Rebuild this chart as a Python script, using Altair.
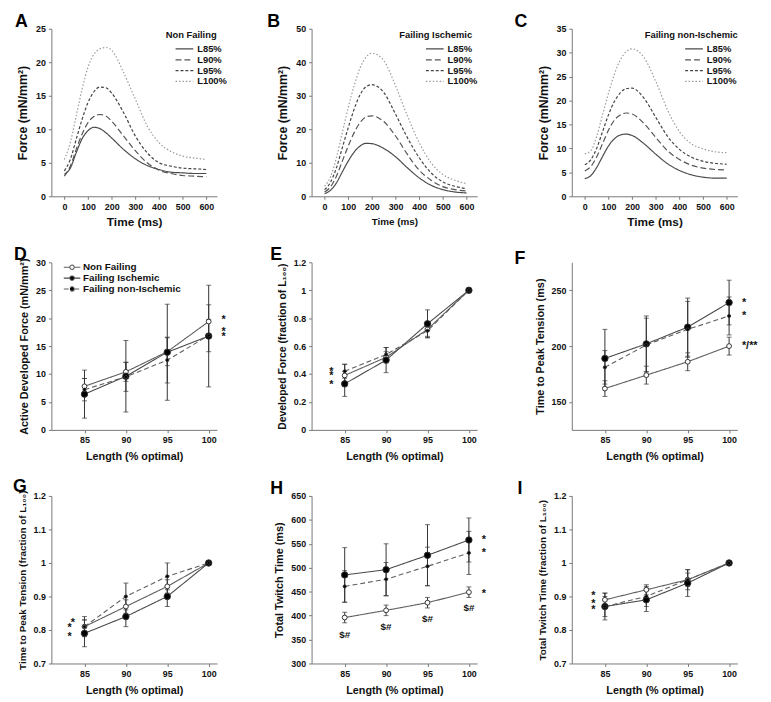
import altair as alt
import pandas as pd

FONT = "Liberation Sans"

# ---------------- Panels A-C: twitch force traces ----------------
t_ms = [0, 25, 50, 75, 100, 125, 150, 175, 200, 250, 300, 350, 400, 450, 500, 550, 600]
len_names = ["L85%", "L90%", "L95%", "L100%"]

A_L85 = [3.3, 4.2, 6.5, 8.6, 9.8, 10.3, 10.1, 9.5, 8.7, 7.0, 5.6, 4.6, 4.0, 3.6, 3.5, 3.4, 3.4]
A_L90 = [3.0, 4.5, 7.0, 9.3, 11.0, 11.9, 12.2, 12.0, 11.2, 9.0, 6.8, 5.0, 3.9, 3.4, 3.1, 3.0, 2.9]
A_L95 = [3.8, 5.5, 8.5, 11.5, 14.0, 15.6, 16.3, 16.2, 15.4, 12.5, 9.0, 6.5, 5.0, 4.5, 4.2, 4.1, 4.0]
A_L100 = [5.5, 8.0, 12.0, 16.0, 19.3, 21.2, 22.0, 22.2, 21.8, 18.5, 14.5, 10.5, 8.0, 6.7, 6.0, 5.7, 5.5]

B_L85 = [0.8, 1.8, 4.0, 7.3, 10.5, 13.2, 15.0, 15.8, 15.7, 14.3, 11.8, 8.5, 5.5, 3.3, 2.0, 1.3, 1.0]
B_L90 = [1.3, 2.8, 6.0, 10.5, 15.0, 19.0, 22.0, 23.7, 24.0, 22.3, 18.0, 12.5, 7.8, 4.8, 2.9, 2.0, 1.6]
B_L95 = [2.0, 4.2, 8.5, 14.5, 20.5, 26.0, 30.3, 32.7, 33.3, 31.0, 24.5, 17.5, 11.5, 7.0, 4.3, 3.0, 2.3]
B_L100 = [3.0, 5.8, 11.5, 19.0, 26.5, 33.0, 38.3, 41.5, 42.7, 40.5, 33.0, 24.0, 16.0, 10.0, 6.5, 4.8, 3.8]

C_L85 = [3.7, 4.3, 6.0, 8.3, 10.5, 12.0, 12.8, 13.0, 12.7, 11.0, 8.8, 6.8, 5.4, 4.5, 4.0, 3.8, 3.8]
C_L90 = [5.3, 6.2, 8.2, 11.0, 13.8, 15.9, 17.0, 17.4, 17.2, 15.2, 12.3, 9.5, 7.7, 6.5, 5.9, 5.6, 5.5]
C_L95 = [6.6, 7.6, 10.0, 13.5, 17.0, 19.8, 21.6, 22.5, 22.6, 20.5, 16.5, 12.5, 9.8, 8.2, 7.3, 6.9, 6.7]
C_L100 = [8.9, 9.5, 12.5, 17.0, 21.5, 25.5, 28.5, 30.2, 30.8, 29.0, 24.0, 18.0, 13.5, 11.0, 9.9, 9.3, 9.1]

len_colors = ["#4a4a4a", "#555555", "#444444", "#9a9a9a"]
len_dashes = [[1, 0], [6, 3], [3, 2], [1.5, 2]]

# ---------------- Panels D-I: group summaries ----------------
lengths = [85, 90, 95, 100]
groups = ["Non Failing", "Failing Ischemic", "Failing non-Ischemic"]
group_sizes = [24, 42, 10]

D_nf = [7.8, 10.4, 14.0, 19.4]
D_nf_err = [1.4, 1.7, 2.5, 3.0]
D_fi = [6.4, 9.6, 13.9, 16.8]
D_fi_err = [4.3, 6.4, 8.6, 9.1]
D_fn = [7.2, 9.5, 12.5, 16.9]
D_fn_err = [2.0, 2.6, 4.1, 2.9]

E_nf = [0.39, 0.52, 0.72, 1.0]
E_nf_err = [0.08, 0.04, 0.05, 0.0]
E_fi = [0.33, 0.50, 0.76, 1.0]
E_fi_err = [0.09, 0.09, 0.10, 0.0]
E_fn = [0.42, 0.54, 0.71, 1.0]
E_fn_err = [0.05, 0.05, 0.05, 0.0]

F_nf = [162, 174, 186, 200]
F_nf_err = [7, 8, 8, 8]
F_fi = [189, 202, 217, 239]
F_fi_err = [26, 25, 26, 20]
F_fn = [181, 201, 215, 227]
F_fn_err = [15, 24, 25, 17]

G_nf = [0.81, 0.87, 0.93, 1.0]
G_nf_err = [0.02, 0.02, 0.02, 0.0]
G_fi = [0.79, 0.84, 0.90, 1.0]
G_fi_err = [0.04, 0.03, 0.03, 0.0]
G_fn = [0.81, 0.90, 0.96, 1.0]
G_fn_err = [0.03, 0.04, 0.04, 0.0]

H_nf = [396, 411, 427, 449]
H_nf_err = [11, 11, 11, 11]
H_fi = [485, 496, 526, 558]
H_fi_err = [57, 54, 64, 46]
H_fn = [461, 476, 503, 531]
H_fn_err = [33, 35, 40, 45]

I_nf = [0.89, 0.92, 0.95, 1.0]
I_nf_err = [0.02, 0.015, 0.03, 0.0]
I_fi = [0.87, 0.89, 0.94, 1.0]
I_fi_err = [0.04, 0.035, 0.04, 0.0]
I_fn = [0.87, 0.90, 0.95, 1.0]
I_fn_err = [0.03, 0.03, 0.02, 0.0]

# annotations: (x, y, text)
D_right = [(100, 19.7, "*"), (100, 17.6, "*"), (100, 16.6, "*")]
E_left = [(83.4, 0.412, "*"), (83.4, 0.383, "*"), (83.4, 0.322, "*")]
F_right = [(100, 239, "*"), (100, 227, "*"), (100, 200, "*/**")]
G_left = [(83.2, 0.805, "*"), (83.6, 0.821, "*"), (83.2, 0.779, "*")]
H_right = [(100, 558, "*"), (100, 530, "*"), (100, 446, "*")]
H_center = [(85, 360, "$#"), (90, 377, "$#"), (95, 393, "$#"), (100, 416, "$#")]
I_left = [(83.6, 0.900, "*"), (83.6, 0.877, "*"), (83.6, 0.860, "*")]

W, H = 168, 170
LINE_SYM = "M-1.8,0H1.8"
LEG_PATH = "M-1.6,0H-0.42M0.42,0H1.6M0.42,0A0.42,0.42,0,1,1,-0.42,0A0.42,0.42,0,1,1,0.42,0Z"


def letter_title(letter, dx):
    return alt.TitleParams(text=letter, anchor="start", frame="group", dx=dx,
                           fontSize=18, fontWeight="bold", font=FONT, offset=-6)


def curve_panel(letter, dx, legend_title, legend_x, sym_off, series, ymax, ystep, xtitle_size):
    rows = [{"t": tt, "force": v, "len": n}
            for n, vals in zip(len_names, series) for tt, v in zip(t_ms, vals)]
    df = pd.DataFrame(rows)
    leg = alt.Legend(title=legend_title, orient="none", legendX=legend_x, legendY=1,
                     symbolType=LINE_SYM, symbolSize=100, symbolStrokeWidth=1.3,
                     symbolOffset=sym_off, labelOffset=7,
                     labelFontSize=9.5, titleFontSize=9.5, rowPadding=0,
                     labelFont=FONT, titleFont=FONT, labelFontWeight="bold",
                     titleFontWeight="bold", titlePadding=4)
    return alt.Chart(df).mark_line(strokeWidth=1.2, interpolate="monotone").encode(
        x=alt.X("t:Q", scale=alt.Scale(domain=[-55, 645], nice=False, zero=False),
                axis=alt.Axis(values=[0, 100, 200, 300, 400, 500, 600], title="Time (ms)",
                              titleFontSize=xtitle_size)),
        y=alt.Y("force:Q", scale=alt.Scale(domain=[0, ymax], nice=False),
                axis=alt.Axis(values=list(range(0, ymax + 1, ystep)), title="Force (mN/mm²)",
                              titleFontSize=12.5)),
        stroke=alt.Stroke("len:N", scale=alt.Scale(domain=len_names, range=len_colors), legend=leg),
        strokeDash=alt.StrokeDash("len:N", scale=alt.Scale(domain=len_names, range=len_dashes), legend=leg),
        order=alt.Order("t:Q"),
    ).properties(width=W, height=H, title=letter_title(letter, dx))


def group_panel(letter, dx, means, errs, ydom, yvals, yfmt, ytitle, ytitle_size,
                right=None, left=None, center=None, legend=False):
    rows = []
    for g, m, e in zip(groups, means, errs):
        for L, mm, ee in zip(lengths, m, e):
            rows.append({"L": L, "v": mm, "lo": mm - ee, "hi": mm + ee, "err": ee, "group": g})
    df = pd.DataFrame(rows)
    xs = alt.Scale(domain=[81, 101], nice=False, zero=False)
    ys = alt.Scale(domain=ydom, nice=False, zero=False)
    xax = alt.Axis(values=lengths, title="Length (% optimal)", titleFontSize=11)
    yax = alt.Axis(values=yvals, format=yfmt, title=ytitle, titleFontSize=ytitle_size)

    def X():
        return alt.X("L:Q", scale=xs, axis=xax)

    def Y(f):
        return alt.Y(f + ":Q", scale=ys, axis=yax)

    base = alt.Chart(df)
    eb = base.transform_filter("datum.err > 0")
    rules = eb.mark_rule(color="#333333", strokeWidth=1).encode(x=X(), y=Y("lo"), y2="hi:Q")
    cap_lo = eb.mark_tick(orient="horizontal", size=5, thickness=1, color="#333333").encode(x=X(), y=Y("lo"))
    cap_hi = eb.mark_tick(orient="horizontal", size=5, thickness=1, color="#333333").encode(x=X(), y=Y("hi"))
    if legend:
        leg = alt.Legend(title=None, orient="none", legendX=15, legendY=-1,
                         symbolType=LEG_PATH, symbolSize=110, symbolStrokeWidth=1.1,
                         labelOffset=5, labelFontSize=10, labelFont=FONT,
                         labelFontWeight="bold", rowPadding=0)
    else:
        leg = None
    fill_scale = alt.Scale(domain=groups, range=["#ffffff", "#000000", "#000000"])
    lines = base.mark_line(strokeWidth=1.1).encode(
        x=X(), y=Y("v"),
        stroke=alt.Stroke("group:N", scale=alt.Scale(domain=groups, range=["#5e5e5e", "#4a4a4a", "#5e5e5e"]), legend=leg),
        strokeDash=alt.StrokeDash("group:N", scale=alt.Scale(domain=groups, range=[[1, 0], [1, 0], [5, 3]]), legend=leg),
        detail="group:N",
    )
    layers = [rules, cap_lo, cap_hi, lines]
    for g, sz in zip(groups, group_sizes):
        layers.append(base.transform_filter(alt.datum.group == g).mark_point(
            opacity=1, strokeWidth=1, stroke="#333333", size=sz).encode(
            x=X(), y=Y("v"),
            fill=alt.Fill("group:N", scale=fill_scale, legend=leg),
        ))
    if right:
        rdf = pd.DataFrame(right, columns=["x", "y", "txt"])
        layers.append(alt.Chart(rdf).mark_text(align="left", dx=13, baseline="middle", fontSize=11,
                                               fontWeight="bold", font=FONT, color="#111").encode(
            x=alt.X("x:Q", scale=xs, axis=xax), y=alt.Y("y:Q", scale=ys, axis=yax), text="txt:N"))
    if left:
        ldf = pd.DataFrame(left, columns=["x", "y", "txt"])
        layers.append(alt.Chart(ldf).mark_text(align="center", baseline="middle", fontSize=11,
                                               fontWeight="bold", font=FONT, color="#111").encode(
            x=alt.X("x:Q", scale=xs, axis=xax), y=alt.Y("y:Q", scale=ys, axis=yax), text="txt:N"))
    if center:
        cdf = pd.DataFrame(center, columns=["x", "y", "txt"])
        layers.append(alt.Chart(cdf).mark_text(align="center", baseline="middle", fontSize=10,
                                               fontWeight="bold", font=FONT, color="#111").encode(
            x=alt.X("x:Q", scale=xs, axis=xax), y=alt.Y("y:Q", scale=ys, axis=yax), text="txt:N"))
    return alt.layer(*layers).properties(width=W, height=H, title=letter_title(letter, dx))


pA = curve_panel("A", -37, "Non Failing", 116, 13, [A_L85, A_L90, A_L95, A_L100], 25, 5, 12)
pB = curve_panel("B", -45, "Failing Ischemic", 89, 30, [B_L85, B_L90, B_L95, B_L100], 50, 10, 10)
pC = curve_panel("C", -58, "Failing non-Ischemic", 74, 44, [C_L85, C_L90, C_L95, C_L100], 35, 5, 12)

frac_vals = [0, 0.2, 0.4, 0.6, 0.8, 1.0, 1.2]
frac2_vals = [0.7, 0.8, 0.9, 1.0, 1.1, 1.2]

pD = group_panel("D", -38, [D_nf, D_fi, D_fn], [D_nf_err, D_fi_err, D_fn_err], [0, 30],
                 [0, 5, 10, 15, 20, 25, 30], "d", "Active Developed Force (mN/mm²)", 11,
                 right=D_right, legend=True)
pE = group_panel("E", -42, [E_nf, E_fi, E_fn], [E_nf_err, E_fi_err, E_fn_err], [0, 1.2],
                 frac_vals, "~g", "Developed Force (fraction of L₁₀₀)", 10.5, left=E_left)
pF = group_panel("F", -58, [F_nf, F_fi, F_fn], [F_nf_err, F_fi_err, F_fn_err], [125, 275],
                 [150, 200, 250], "d", "Time to Peak Tension (ms)", 11, right=F_right)
pG = group_panel("G", -39, [G_nf, G_fi, G_fn], [G_nf_err, G_fi_err, G_fn_err], [0.7, 1.2],
                 frac2_vals, "~g", "Time to Peak Tension (fraction of L₁₀₀)", 10, left=G_left)
pH = group_panel("H", -42, [H_nf, H_fi, H_fn], [H_nf_err, H_fi_err, H_fn_err], [300, 650],
                 [300, 350, 400, 450, 500, 550, 600, 650], "d", "Total Twitch Time (ms)", 11,
                 right=H_right, center=H_center)
pI = group_panel("I", -55, [I_nf, I_fi, I_fn], [I_nf_err, I_fi_err, I_fn_err], [0.7, 1.2],
                 frac2_vals, "~g", "Total Twitch Time (fraction of L₁₀₀)", 10, left=I_left)

chans = dict(stroke="independent", strokeDash="independent", fill="independent")

chart = alt.concat(pA, pB, pC, pD, pE, pF, pG, pH, pI, columns=3,
                   spacing={"row": 67, "column": 96}, bounds="flush",
                   padding={"top": 0, "left": 5, "right": 5, "bottom": 0}).resolve_scale(
    **chans
).resolve_legend(
    **chans
).configure_view(
    strokeOpacity=0
).configure_axis(
    labelFont=FONT, labelFontWeight="bold", labelFontSize=9, labelColor="#111",
    titleFont=FONT, titleFontWeight="bold", titleColor="#111",
    domainColor="#777777", tickColor="#777777", tickSize=3, grid=False,
    labelPadding=3, titlePadding=6
).configure_legend(
    labelColor="#111", titleColor="#111"
)

chart.save("out.html", embed_options={"renderer": "svg", "actions": False})
